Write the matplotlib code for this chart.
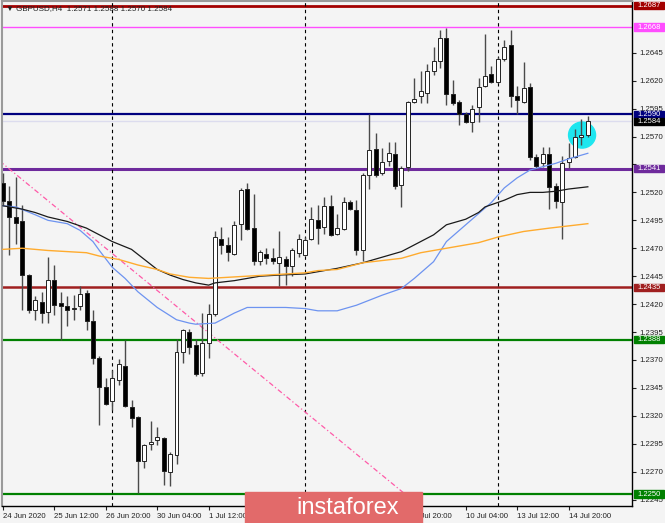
import matplotlib
matplotlib.use("Agg")
import matplotlib.pyplot as plt
import matplotlib.transforms as mtransforms
from matplotlib.patches import Rectangle, Ellipse
import numpy as np

plt.rcParams['font.family'] = ['Liberation Sans', 'DejaVu Sans']

# H4 bars, index 0 = 29 Jun 2020 00:00
bars = list(range(-17, 75))
opens = [1.2528, 1.2512, 1.2498, 1.2494, 1.2446, 1.2415, 1.2422, 1.2413, 1.2442, 1.2421,
         1.2418, 1.2416, 1.2418, 1.2430, 1.2405, 1.2372, 1.2346, 1.2333, 1.2352, 1.2365,
         1.2328, 1.2319, 1.2280, 1.2295, 1.2298, 1.2300, 1.2270, 1.2285, 1.2377, 1.2395,
         1.2383, 1.2358, 1.2385, 1.2411, 1.2478, 1.2473, 1.2465, 1.2492, 1.2523, 1.2488,
         1.2459, 1.2465, 1.2461, 1.2457, 1.2460, 1.2454, 1.2466, 1.2464, 1.2478, 1.2495,
         1.2489, 1.2508, 1.2483, 1.2487, 1.2511, 1.2504, 1.2468, 1.2536, 1.2559, 1.2537,
         1.2548, 1.2554, 1.2527, 1.2543, 1.2601, 1.2606, 1.2609, 1.2629, 1.2638, 1.2658,
         1.2608, 1.2601, 1.2590, 1.2583, 1.2596, 1.2615, 1.2626, 1.2619, 1.2639, 1.2652,
         1.2606, 1.2601, 1.2614, 1.2552, 1.2546, 1.2554, 1.2526, 1.2511, 1.2547, 1.2552,
         1.2570, 1.2571]
highs = [1.2537, 1.2526, 1.2534, 1.2509, 1.2447, 1.2427, 1.2431, 1.2462, 1.2455, 1.2431,
         1.2427, 1.2428, 1.2436, 1.2433, 1.2415, 1.2374, 1.2354, 1.2361, 1.2371, 1.2388,
         1.2334, 1.2320, 1.2295, 1.2315, 1.2310, 1.2301, 1.2288, 1.2389, 1.2398, 1.2398,
         1.2389, 1.2412, 1.2420, 1.2485, 1.2489, 1.2480, 1.2494, 1.2524, 1.2528, 1.2519,
         1.2468, 1.2470, 1.2470, 1.2485, 1.2463, 1.2470, 1.2483, 1.2480, 1.2507, 1.2509,
         1.2516, 1.2518, 1.2501, 1.2516, 1.2513, 1.2513, 1.2537, 1.2590, 1.2573, 1.2560,
         1.2565, 1.2565, 1.2544, 1.2602, 1.2622, 1.2629, 1.2635, 1.2650, 1.2665, 1.2667,
         1.2621, 1.2603, 1.2592, 1.2598, 1.2622, 1.2662, 1.2633, 1.2641, 1.2656, 1.2665,
         1.2615, 1.2637, 1.2618, 1.2554, 1.2561, 1.2561, 1.2528, 1.2553, 1.2564, 1.2577,
         1.2586, 1.2588]
lows = [1.2509, 1.2464, 1.2474, 1.2415, 1.2412, 1.2406, 1.2403, 1.2403, 1.2410, 1.2388,
        1.2400, 1.2406, 1.2415, 1.2397, 1.2366, 1.2312, 1.2330, 1.2325, 1.2348, 1.2328,
        1.2310, 1.2251, 1.2273, 1.2289, 1.2294, 1.2258, 1.2257, 1.2277, 1.2367, 1.2375,
        1.2356, 1.2356, 1.2372, 1.2409, 1.2465, 1.2459, 1.2464, 1.2477, 1.2486, 1.2455,
        1.2455, 1.2456, 1.2456, 1.2436, 1.2437, 1.2445, 1.2462, 1.2463, 1.2477, 1.2474,
        1.2483, 1.2481, 1.2482, 1.2486, 1.2504, 1.2464, 1.2459, 1.2523, 1.2534, 1.2536,
        1.2544, 1.2523, 1.2507, 1.2539, 1.2600, 1.2600, 1.2600, 1.2625, 1.2631, 1.2598,
        1.2598, 1.2580, 1.2582, 1.2574, 1.2583, 1.2614, 1.2618, 1.2618, 1.2638, 1.2596,
        1.2590, 1.2600, 1.2549, 1.2541, 1.2543, 1.2505, 1.2506, 1.2478, 1.2542, 1.2551,
        1.2562, 1.2570]
closes = [1.2512, 1.2498, 1.2493, 1.2446, 1.2415, 1.2424, 1.2412, 1.2442, 1.2419, 1.2418,
          1.2415, 1.2416, 1.2429, 1.2405, 1.2372, 1.2346, 1.2331, 1.2354, 1.2366, 1.2329,
          1.2318, 1.2280, 1.2294, 1.2297, 1.2301, 1.2271, 1.2286, 1.2377, 1.2397, 1.2382,
          1.2357, 1.2385, 1.2411, 1.2480, 1.2473, 1.2467, 1.2491, 1.2522, 1.2487, 1.2459,
          1.2467, 1.2461, 1.2459, 1.2462, 1.2454, 1.2468, 1.2478, 1.2477, 1.2496, 1.2488,
          1.2508, 1.2482, 1.2488, 1.2511, 1.2505, 1.2468, 1.2536, 1.2558, 1.2536, 1.2547,
          1.2555, 1.2526, 1.2542, 1.2601, 1.2604, 1.2611, 1.2629, 1.2638, 1.2658, 1.2608,
          1.2600, 1.2590, 1.2583, 1.2595, 1.2614, 1.2624, 1.2619, 1.2639, 1.2650, 1.2606,
          1.2603, 1.2613, 1.2552, 1.2544, 1.2554, 1.2525, 1.2512, 1.2546, 1.2551, 1.2570,
          1.2571, 1.2584]

# moving averages
fast_ma_bars = [-17, -15, -12, -10, -7, -5, -3, -2, 0, 2, 4, 7, 10, 12, 13, 16, 17, 19, 21, 23,
                27, 30, 32, 35, 38, 42, 45, 47, 50, 52, 55, 57, 59, 61, 63, 65, 67, 69, 71, 74]
fast_ma = [1.2508, 1.2507, 1.2500, 1.2495, 1.2492, 1.2486, 1.2476, 1.2468, 1.2453, 1.2443,
           1.2431, 1.2417, 1.2406, 1.2403, 1.2402, 1.2403, 1.2406, 1.2412, 1.2417, 1.2417,
           1.2417, 1.2416, 1.2414, 1.2414, 1.2419, 1.2428, 1.2434, 1.2443, 1.2458, 1.2476,
           1.2491, 1.2501, 1.2511, 1.2524, 1.2533, 1.2540, 1.2543, 1.2546, 1.2550, 1.2555]
mid_ma_bars = [-17, -14, -12, -10, -7, -4, -2, 0, 3, 5, 7, 9, 11, 13, 15, 16, 19, 21, 23, 26,
               30, 32, 35, 39, 42, 45, 47, 50, 52, 55, 57, 58, 61, 63, 65, 67, 69, 71, 74]
mid_ma = [1.2508, 1.2505, 1.2502, 1.2498, 1.2494, 1.2488, 1.2482, 1.2476, 1.2469, 1.2460,
          1.2451, 1.2446, 1.2442, 1.2439, 1.2437, 1.2439, 1.2441, 1.2443, 1.2445, 1.2446,
          1.2447, 1.2449, 1.2452, 1.2457, 1.2462, 1.2467, 1.2473, 1.2482, 1.2491, 1.2496,
          1.2502, 1.2507, 1.2513, 1.2518, 1.2520, 1.2520, 1.2521, 1.2523, 1.2525]
slow_ma_bars = [-17, -14, -10, -4, -2, 1, 4, 7, 9, 12, 15, 18, 21, 24, 27, 30, 32, 35, 39, 45,
                48, 52, 57, 60, 64, 68, 74]
slow_ma = [1.2469, 1.2470, 1.2468, 1.2466, 1.2463, 1.2460, 1.2455, 1.2451, 1.2447, 1.2444,
           1.2443, 1.2444, 1.2445, 1.2446, 1.2447, 1.2448, 1.2450, 1.2451, 1.2457, 1.2461,
           1.2466, 1.2470, 1.2475, 1.2480, 1.2485, 1.2488, 1.2492]

trend_bars = [-17.5, 50]
trend_prices = [1.2548, 1.2229]

levels = [1.2687, 1.2668, 1.2590, 1.2541, 1.2435, 1.2388, 1.2250]
level_colors = ['#a30000', '#ff4dff', '#00007f', '#6e2a9c', '#a01f1f', '#008000', '#008000']
level_widths = [2.0, 1.0, 1.6, 2.2, 1.8, 1.6, 1.6]
last_price = 1.2584

week_starts = [0, 30, 60]
# labels under the watermark are hidden in the original, so left blank
tick_bars = [-17, -9, -1, 7, 15, 23, 31, 39, 47, 55, 63, 71]
tick_labels = ['24 Jun 2020', '25 Jun 12:00', '26 Jun 20:00', '30 Jun 04:00', '1 Jul 12:00',
               '', '', '', '8 Jul 20:00', '10 Jul 04:00', '13 Jul 12:00', '14 Jul 20:00']
price_ticks = [1.2245, 1.2270, 1.2295, 1.2320, 1.2345, 1.2370, 1.2395, 1.2420, 1.2445,
               1.2470, 1.2495, 1.2520, 1.2545, 1.2570, 1.2595, 1.2620, 1.2645]
price_tick_labels = ['1.2245', '1.2270', '1.2295', '1.2320', '1.2345', '1.2370', '1.2395',
                     '1.2420', '1.2445', '1.2470', '1.2495', '1.2520', '', '1.2570', '1.2595',
                     '1.2620', '1.2645']

bg = '#f4f4f4'
fig = plt.figure(figsize=(6.65, 5.23), dpi=100)
fig.patch.set_facecolor(bg)
ax = fig.add_axes([2/665, 1-506/523, 630/665, 505/523])
ax.set_facecolor(bg)
ax.set_xlim(-17.15, 80.87)
ax.set_ylim(1.22393, 1.26913)

for sp in ['left', 'top']:
    ax.spines[sp].set_color('#9a9a9a')
    ax.spines[sp].set_linewidth(1.5)
for sp in ['right', 'bottom']:
    ax.spines[sp].set_color('black')
    ax.spines[sp].set_linewidth(1.0)

# levels and separators
for p, col, lw in zip(levels, level_colors, level_widths):
    ax.axhline(p, color=col, lw=lw, zorder=1)
ax.axhline(last_price, color='#dcdcee', lw=1, zorder=1)
for b in week_starts:
    ax.axvline(b, color='black', lw=0.8, ls=(0, (3, 3)), zorder=1.5)

ax.plot(trend_bars, trend_prices, color='#ff5aa8', lw=0.9, ls=(0, (4, 2, 1, 2)), zorder=1.6)

ax.add_patch(Ellipse((73.1, 1.25713), 4.2, 0.00233, color='#1ee6ef', zorder=2))

# candles
x = np.array(bars)
o = np.array(opens)
h = np.array(highs)
l = np.array(lows)
c = np.array(closes)
up = c >= o
ax.vlines(x, l, h, color='#4a4a4a', lw=1.0, zorder=3)
ax.bar(x, np.maximum(np.abs(c - o), 0.00004), bottom=np.minimum(o, c), width=0.62,
       color=np.where(up, 'white', 'black'), edgecolor='#222222', lw=0.7, zorder=4)

ax.plot(fast_ma_bars, fast_ma, color='#6d93f0', lw=0.9, zorder=5)
ax.plot(mid_ma_bars, mid_ma, color='#1a1a1a', lw=0.9, zorder=5)
ax.plot(slow_ma_bars, slow_ma, color='#ffab2e', lw=1.0, zorder=5)

# axes ticks
ax.yaxis.tick_right()
ax.set_yticks(price_ticks)
ax.set_yticklabels(price_tick_labels)
ax.set_xticks(tick_bars)
ax.set_xticklabels(tick_labels, ha='left')
ax.tick_params(axis='y', length=3, pad=2, labelsize=5.6, colors='#222222')
ax.tick_params(axis='x', length=3, pad=2, labelsize=5.6, colors='#222222')

# price labels on the right
trans = mtransforms.blended_transform_factory(ax.transAxes, ax.transData)
for p, col in zip(levels + [last_price], level_colors + ['black']):
    off = -0.00008 if p == last_price else 0.0
    ax.add_patch(Rectangle((1.003, p + off - 0.00032), 0.048, 0.00064, transform=trans,
                           color=col, clip_on=False, zorder=6))
    ax.text(1.027, p + off, f'{p:.4f}', transform=trans, ha='center', va='center',
            color='white', fontsize=5.5, zorder=7, clip_on=False)

ax.text(0.006, 1 - 4.5/505, '\u25bc GBPUSD,H4  1.2571 1.2588 1.2570 1.2584',
        transform=ax.transAxes, ha='left', va='top', fontsize=5.8, color='#222222', zorder=7)

# watermark
fig.add_artist(Rectangle((245/665, 0), 177/665, 31/523, transform=fig.transFigure,
                         color='#e26a6a', zorder=10))
fig.text(348/665, 15/523, 'instaforex', color='white', fontsize=17, ha='center',
         va='center', zorder=11)

fig.savefig('out.png', dpi=100, facecolor=bg)
